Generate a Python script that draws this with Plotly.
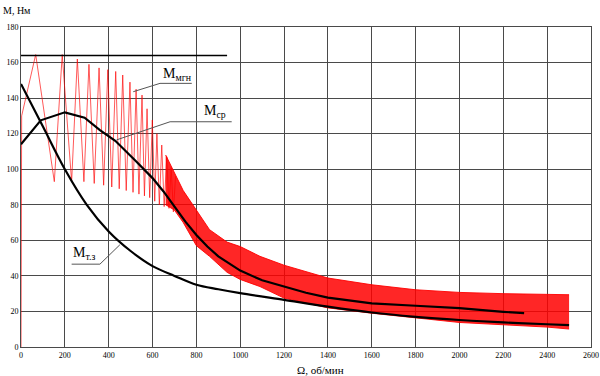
import plotly.graph_objects as go

# ---- data ----
# instantaneous torque, sparse oscillation part (peaks and troughs)
osc_x = [0, 0, 3, 67, 152, 188, 231, 257, 287, 310, 334, 356, 377, 396, 414, 432, 448, 464, 480, 497, 511, 525, 538, 552, 563, 575, 587, 599, 610, 620, 631, 642, 653, 665, 675, 685, 695, 705]
osc_y = [0, 128, 130, 164.5, 93, 164.5, 93, 162, 93, 159, 92, 157, 91, 156, 90, 155, 89, 153, 88, 149, 87, 145, 86, 141.7, 85, 134, 84, 127.7, 82, 120, 80, 113.6, 79, 107, 78, 101, 76, 96]

# dense oscillation band (upper / lower envelope)
band_x = [660, 700, 740, 800, 860, 940, 1000, 1090, 1200, 1400, 1600, 1800, 2000, 2200, 2400, 2500]
band_hi = [108, 98, 88, 77, 66, 59, 56.5, 51, 46, 38.8, 35, 32.2, 30.7, 30, 29.4, 29.4]
band_lo = [80, 77, 70, 57, 51, 42, 38, 34, 27.5, 22, 19, 16.3, 13.8, 12.5, 11.2, 10.1]

# mean torque M_ср
mean_x = [0, 90, 200, 290, 360, 430, 520, 600, 650, 700, 750, 800, 850, 900, 1000, 1100, 1200, 1300, 1400, 1600, 1800, 2000, 2200, 2295]
mean_y = [114, 127.5, 132, 129, 122, 116, 105, 95, 87.5, 79, 70.5, 63, 56.5, 51, 43, 37.5, 34, 30.5, 27.8, 24.5, 23.2, 21.9, 19.8, 19]

# M_т.з
tz_x = [0, 100, 200, 300, 400, 500, 600, 700, 800, 900, 1000, 1200, 1400, 1600, 1800, 2000, 2200, 2400, 2500]
tz_y = [148, 124, 100, 80, 65, 54, 45.5, 40, 35, 32.5, 30.3, 26.5, 22.7, 19.4, 17, 15.2, 13.8, 12.8, 12.3]

# horizontal limit line
lim_x = [0, 940]
lim_y = [164, 164]

fig = go.Figure()

fig.add_trace(go.Scatter(x=band_x, y=band_lo, mode="lines",
                         line=dict(color="rgba(255,0,0,0.9)", width=1), showlegend=False))
fig.add_trace(go.Scatter(x=band_x, y=band_hi, mode="lines", fill="tonexty",
                         fillcolor="rgba(255,0,0,0.85)",
                         line=dict(color="rgba(255,0,0,0.9)", width=1), showlegend=False))
fig.add_trace(go.Scatter(x=osc_x, y=osc_y, mode="lines",
                         line=dict(color="rgba(255,0,0,0.65)", width=1), showlegend=False))
fig.add_trace(go.Scatter(x=lim_x, y=lim_y, mode="lines",
                         line=dict(color="black", width=1.5), showlegend=False))
fig.add_trace(go.Scatter(x=mean_x, y=mean_y, mode="lines",
                         line=dict(color="black", width=2.2), showlegend=False))
fig.add_trace(go.Scatter(x=tz_x, y=tz_y, mode="lines", line_shape="spline",
                         line=dict(color="black", width=2.2), showlegend=False))

serif = "Liberation Serif, Times New Roman, serif"
grid = "#4a4a4a"

# leader lines
leaders = [
    [(512, 143.6), (634, 148.3), (779, 148.3)],
    [(436, 116.5), (680, 126.7), (961, 126.7)],
    [(451, 57.5), (360, 46.6), (231, 46.6)],
]
for pts in leaders:
    path = "M " + " L ".join(f"{x},{y}" for x, y in pts)
    fig.add_shape(type="path", path=path, xref="x", yref="y",
                  line=dict(color="#555555", width=1))

labels = [(640, 153.5, "M<sub>мгн</sub>"), (826, 132.5, "M<sub>ср</sub>"), (229, 52.5, "M<sub>т.з</sub>")]
for x, y, t in labels:
    fig.add_annotation(x=x, y=y, text=t, xref="x", yref="y", showarrow=False,
                       xanchor="left", yanchor="middle",
                       font=dict(family=serif, size=14, color="black"))

fig.add_annotation(x=0, y=1, xref="paper", yref="paper", xshift=-20, yshift=24,
                   text="М, Нм", showarrow=False, xanchor="left", yanchor="top",
                   font=dict(family=serif, size=10, color="black"))
fig.add_annotation(x=0.48, y=0, xref="paper", yref="paper", yshift=-15,
                   text="Ω, об/мин", showarrow=False, xanchor="left", yanchor="top",
                   font=dict(family=serif, size=11, color="black"))

fig.update_xaxes(range=[0, 2600], dtick=200, tick0=0, showgrid=True, gridcolor=grid, gridwidth=1,
                 zeroline=False, showline=True, mirror=True, linecolor=grid, linewidth=1,
                 ticks="", automargin=False, tickfont=dict(family=serif, size=8, color="black"))
fig.update_yaxes(range=[0, 180], dtick=20, tick0=0, showgrid=True, gridcolor=grid, gridwidth=1,
                 zeroline=False, showline=True, mirror=True, linecolor=grid, linewidth=1,
                 ticks="", automargin=False, tickfont=dict(family=serif, size=8, color="black"))

fig.update_layout(width=600, height=376, margin=dict(l=21, r=9, t=27, b=29),
                  paper_bgcolor="white", plot_bgcolor="white", showlegend=False)

fig.write_html("out.html", config={"displayModeBar": False},
               post_script="document.body.style.margin='0px';document.body.style.overflow='hidden';")
